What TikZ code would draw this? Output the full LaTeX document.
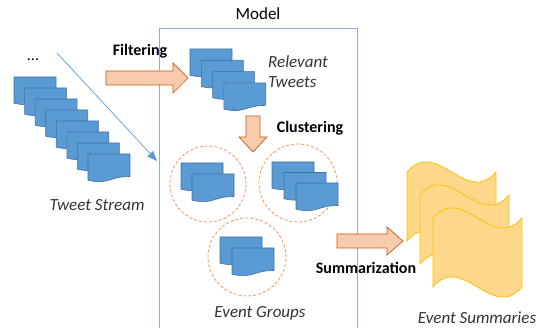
\documentclass[tikz,border=0pt]{standalone}
\usepackage{fontspec}
\setmainfont{Carlito}
\usetikzlibrary{arrows.meta}
\definecolor{docfill}{RGB}{91,155,213}
\definecolor{docdraw}{RGB}{65,113,156}
\definecolor{arrfill}{RGB}{248,203,173}
\definecolor{arrdraw}{RGB}{197,90,17}
\definecolor{boxline}{RGB}{143,170,220}
\definecolor{circline}{RGB}{244,150,90}
\definecolor{wavefill}{RGB}{254,216,138}
\definecolor{wavedraw}{RGB}{255,192,0}
\definecolor{thinblue}{RGB}{91,155,213}
\tikzset{
  docshape/.pic={\draw[fill=docfill,draw=docdraw,line width=0.6pt] (0,0) -- (42,0) -- (42,22.5) .. controls (21,22.5) and (21,31) .. (0,26.2) -- cycle;},
  waveshape/.pic={\draw[fill=wavefill,draw=wavedraw,line width=0.8pt] (0,0) .. controls (29.7,-35) and (59.3,35) .. (89,0) -- (89,69) .. controls (59.3,104) and (29.7,34) .. (0,69) -- cycle;},
  blockarrow/.style={fill=arrfill,draw=arrdraw,line width=0.7pt},
  grp/.style={circle,draw=circline,dash pattern=on 3pt off 2pt,line width=0.8pt,inner sep=0pt},
  itl/.style={font=\fontsize{17}{20}\selectfont\itshape,text=black!80,inner sep=0pt},
  bld/.style={font=\fontsize{16}{19}\selectfont\bfseries,inner sep=0pt},
}
\begin{document}
\begin{tikzpicture}[x=1pt,y=-1pt]
\useasboundingbox (0,0) rectangle (546,328);
% model box
\draw[boxline,line width=0.9pt] (159,332) -- (159,28) -- (357,28) -- (357,332);
\node[font=\fontsize{17}{20}\selectfont,inner sep=0pt] (model) at (258,14) {Model};
% tweet stream
\node[inner sep=0pt,font=\fontsize{16}{19}\selectfont] (dots) at (33,60) {...};
\foreach \i in {0,...,7} {
  \pic at ({14+10.57*\i},{77+11*\i}) {docshape};
}
\node[itl] (stream) at (97,205) {Tweet Stream};
\coordinate (ts) at (57,53);
\coordinate (te) at (157,161);
\draw[thinblue,line width=0.7pt,-{Triangle[length=10pt,width=8pt]}] (ts) -- (te);
% filtering
\draw[blockarrow] (106,71) -- (173,71) -- (173,63) -- (188,78) -- (173,93) -- (173,85) -- (106,85) -- cycle;
\node[bld] (filt) at (140,51) {Filtering};
% relevant tweets
\foreach \i in {0,...,3} {
  \pic at ({190+11.3*\i},{49+11.3*\i}) {docshape};
}
\node[itl,anchor=west,align=left,font=\fontsize{17}{20}\selectfont\itshape] (rel) at (268,72) {Relevant\\Tweets};
% clustering
\draw[blockarrow] (246,116) -- (260,116) -- (260,137) -- (267,137) -- (253,152) -- (239,137) -- (246,137) -- cycle;
\node[bld] (clus) at (310,128) {Clustering};
% groups
\node[grp,minimum size=76pt] (g1) at (208,184) {};
\node[grp,minimum size=78pt] (g2) at (298,183) {};
\node[grp,minimum size=78pt] (g3) at (247,257) {};
\pic at (181,163) {docshape};
\pic at (192,174) {docshape};
\pic at (272,162) {docshape};
\pic at (284,172.5) {docshape};
\pic at (296,183) {docshape};
\pic at (220,237) {docshape};
\pic at (232,248) {docshape};
\node[itl] (groups) at (260,313) {Event Groups};
% summarization
\draw[blockarrow] (337,234) -- (387,234) -- (387,227) -- (403,241) -- (387,255) -- (387,248) -- (337,248) -- cycle;
\node[bld] (summ) at (366,268) {Summarization};
% event summaries
\pic at (407,172) {waveshape};
\pic at (420,195) {waveshape};
\pic at (433,218) {waveshape};
\node[itl] (sums) at (477,318) {Event Summaries};
\end{tikzpicture}
\end{document}
